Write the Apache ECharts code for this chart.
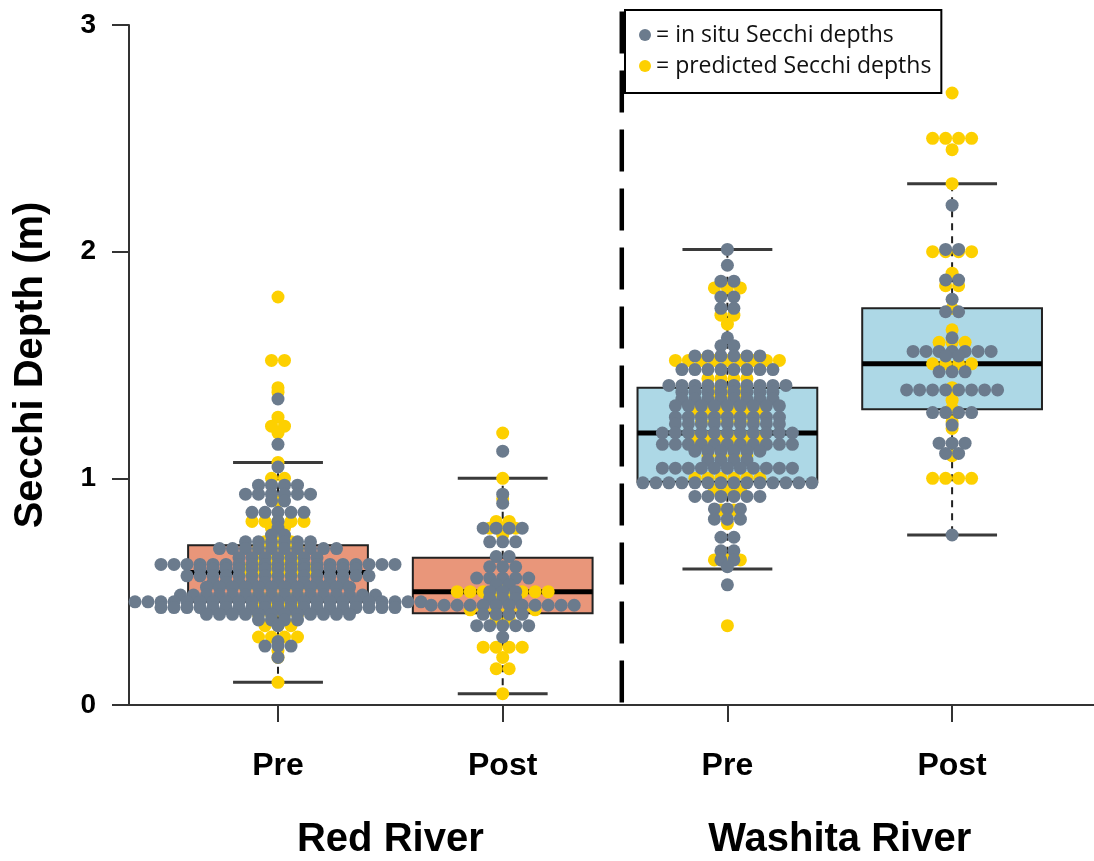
<!DOCTYPE html>
<html>
<head>
<meta charset="utf-8">
<script src="https://cdn.jsdelivr.net/npm/echarts@6/dist/echarts.min.js"></script>
<style>
html, body { margin: 0; padding: 0; background: #ffffff; }
#chart { width: 1094px; height: 861px; }
</style>
</head>
<body>
<div id="chart"></div>
<script>
// ---------------- data ----------------
const periods = ['Pre', 'Post', 'Pre', 'Post'];
const rivers = ['Red River', 'Washita River'];
const yTicks = [0, 1, 2, 3];
const legendNames = ['= in situ Secchi depths', '= predicted Secchi depths'];

// box statistics: [lower whisker, Q1, median, Q3, upper whisker]
const boxRedPre = [0.10, 0.455, 0.585, 0.705, 1.07];
const boxRedPost = [0.05, 0.405, 0.50, 0.65, 1.00];
const boxWashitaPre = [0.60, 0.985, 1.20, 1.40, 2.01];
const boxWashitaPost = [0.75, 1.305, 1.505, 1.75, 2.30];

// in situ (grey) Secchi depths, m
const insituRedPre = [
  1.35, 1.15, 1.05,
  0.97, 0.97, 0.97, 0.97,
  0.93, 0.93, 0.93, 0.93, 0.93, 0.93,
  0.90, 0.90,
  0.85, 0.85, 0.85, 0.85, 0.85,
  0.81, 0.78, 0.75, 0.75,
  0.72, 0.72, 0.72, 0.72, 0.72, 0.72,
  0.69, 0.69, 0.69, 0.69, 0.69, 0.69, 0.69, 0.69, 0.69, 0.69,
  0.65, 0.65, 0.65, 0.65, 0.65, 0.65, 0.65,
  0.62, 0.62, 0.62, 0.62, 0.62, 0.62, 0.62, 0.62, 0.62, 0.62,
  0.62, 0.62, 0.62, 0.62, 0.62, 0.62, 0.62, 0.62, 0.62,
  0.60, 0.60, 0.60, 0.60, 0.60, 0.60, 0.60, 0.60, 0.60, 0.60, 0.60, 0.60, 0.60,
  0.57, 0.57, 0.57, 0.57, 0.57, 0.57, 0.57, 0.57, 0.57, 0.57, 0.57, 0.57, 0.57, 0.57, 0.57,
  0.54, 0.54, 0.54, 0.54, 0.54, 0.54, 0.54, 0.54, 0.54, 0.54, 0.54,
  0.52, 0.52, 0.52, 0.52, 0.52, 0.52, 0.52, 0.52, 0.52, 0.52, 0.52, 0.52,
  0.485, 0.485, 0.485, 0.485, 0.485, 0.485, 0.485, 0.485, 0.485, 0.485,
  0.485, 0.485, 0.485, 0.485, 0.485, 0.485,
  0.455, 0.455, 0.455, 0.455, 0.455, 0.455, 0.455, 0.455, 0.455, 0.455,
  0.455, 0.455, 0.455, 0.455, 0.455, 0.455, 0.455, 0.455, 0.455, 0.455,
  0.455, 0.455, 0.455,
  0.43, 0.43, 0.43, 0.43, 0.43, 0.43, 0.43, 0.43, 0.43, 0.43,
  0.43, 0.43, 0.43, 0.43, 0.43, 0.43, 0.43, 0.43, 0.43,
  0.40, 0.40, 0.40, 0.40, 0.40, 0.40, 0.40, 0.40, 0.40, 0.40, 0.40, 0.40,
  0.375, 0.375, 0.375, 0.375,
  0.35, 0.28, 0.26, 0.26, 0.26, 0.21
];
const insituRedPost = [
  1.12, 0.93, 0.89,
  0.78, 0.78, 0.78, 0.78,
  0.72, 0.72, 0.72,
  0.655, 0.655,
  0.61, 0.61, 0.61,
  0.56, 0.56, 0.56, 0.56, 0.56,
  0.53, 0.53,
  0.50, 0.50, 0.50,
  0.47, 0.47, 0.47,
  0.44, 0.44, 0.44, 0.44, 0.44, 0.44, 0.44, 0.44, 0.44, 0.44, 0.44, 0.44,
  0.40, 0.40, 0.40, 0.40,
  0.35, 0.35, 0.35, 0.35, 0.35,
  0.30
];
const insituWashitaPre = [
  2.01, 1.94, 1.87, 1.87, 1.80, 1.80, 1.75, 1.75, 1.62, 1.585, 1.585,
  1.54, 1.54, 1.54, 1.54, 1.54, 1.54,
  1.48, 1.48, 1.48, 1.48, 1.48, 1.48, 1.48, 1.48,
  1.41, 1.41, 1.41, 1.41, 1.41, 1.41, 1.41, 1.41, 1.41, 1.41,
  1.38, 1.38, 1.38, 1.38, 1.38, 1.38, 1.38, 1.38,
  1.35, 1.35, 1.35, 1.35, 1.35, 1.35, 1.35, 1.35,
  1.32, 1.32, 1.32, 1.32, 1.32, 1.32, 1.32, 1.32, 1.32,
  1.27, 1.27, 1.27, 1.27, 1.27, 1.27, 1.27, 1.27, 1.27,
  1.24, 1.24, 1.24, 1.24, 1.24, 1.24, 1.24, 1.24, 1.24,
  1.20, 1.20, 1.20, 1.20, 1.20, 1.20, 1.20, 1.20, 1.20, 1.20, 1.20,
  1.15, 1.15, 1.15, 1.15, 1.15, 1.15, 1.15, 1.15, 1.15, 1.15, 1.15,
  1.12, 1.12, 1.12, 1.12, 1.12, 1.12,
  1.08, 1.08, 1.08, 1.08,
  1.045, 1.045, 1.045, 1.045, 1.045, 1.045, 1.045, 1.045, 1.045, 1.045, 1.045,
  0.98, 0.98, 0.98, 0.98, 0.98, 0.98, 0.98, 0.98, 0.98, 0.98, 0.98, 0.98, 0.98, 0.98,
  0.92, 0.92, 0.92, 0.92, 0.92, 0.92,
  0.865, 0.865, 0.865,
  0.82, 0.82, 0.82,
  0.74, 0.74, 0.68, 0.68, 0.64, 0.64, 0.61, 0.53
];
const insituWashitaPost = [
  2.205, 2.01, 2.01, 1.875, 1.875, 1.79, 1.735, 1.735, 1.62,
  1.56, 1.56, 1.56, 1.56, 1.56, 1.56, 1.56,
  1.54, 1.54,
  1.47, 1.47, 1.47,
  1.39, 1.39, 1.39, 1.39, 1.39, 1.39, 1.39, 1.39,
  1.29, 1.29, 1.29, 1.29,
  1.235, 1.155, 1.155, 1.155, 1.11, 1.11, 0.75
];

// predicted (yellow) Secchi depths, m
const predRedPre = [
  1.80, 1.52, 1.52, 1.40, 1.38, 1.27, 1.23, 1.23, 1.20, 1.07, 1.00, 1.00, 0.90,
  0.81, 0.81, 0.81, 0.81, 0.81, 0.78, 0.78,
  0.72, 0.72, 0.72, 0.69, 0.69, 0.69, 0.69, 0.65, 0.65, 0.65, 0.65,
  0.60, 0.60, 0.60, 0.60, 0.60, 0.60, 0.57, 0.57, 0.57, 0.57, 0.57,
  0.52, 0.52, 0.52, 0.52, 0.52, 0.52, 0.485, 0.485, 0.485, 0.485,
  0.43, 0.43, 0.43, 0.43, 0.40, 0.40, 0.40, 0.40, 0.35, 0.35, 0.35,
  0.30, 0.30, 0.30, 0.30, 0.24, 0.21, 0.10
];
const predRedPost = [
  1.20, 1.00, 0.91, 0.81, 0.81, 0.78, 0.78, 0.78, 0.75, 0.53,
  0.50, 0.50, 0.50, 0.50, 0.50, 0.50, 0.50, 0.50,
  0.42, 0.42, 0.42, 0.42, 0.42, 0.42, 0.38, 0.38,
  0.255, 0.255, 0.255, 0.255, 0.21, 0.16, 0.16, 0.05
];
const predWashitaPre = [
  1.84, 1.84, 1.84, 1.72, 1.72, 1.68,
  1.52, 1.52, 1.52, 1.52, 1.52, 1.52, 1.52, 1.52, 1.52,
  1.44, 1.44, 1.44, 1.44, 1.38, 1.38, 1.38,
  1.30, 1.30, 1.30, 1.30, 1.30, 1.30, 1.25, 1.25, 1.25, 1.25, 1.25,
  1.18, 1.18, 1.18, 1.18, 1.18, 1.18, 1.10, 1.10, 1.10, 1.10,
  1.00, 1.00, 1.00, 1.00, 1.00, 1.00, 0.95, 0.95, 0.95,
  0.86, 0.86, 0.80, 0.64, 0.64, 0.64, 0.35
];
const predWashitaPost = [
  2.70, 2.50, 2.50, 2.50, 2.50, 2.45, 2.30,
  2.00, 2.00, 2.00, 2.00, 1.905, 1.85, 1.85, 1.75, 1.655,
  1.60, 1.60, 1.60, 1.505, 1.505, 1.505, 1.505,
  1.40, 1.345, 1.31, 1.25, 1.22, 1.10,
  1.00, 1.00, 1.00, 1.00
];

// ---------------- styling / layout ----------------
const greyDot = '#6b7b8d';
const yellowDot = '#fdd000';
const boxFills = ['#e9967a', '#e9967a', '#add8e6', '#add8e6'];
const separatorAt = 1.53;      // between Red River and Washita River groups
const DOT = 13;                // dot spacing in px (diameter)
const RADIUS = 6.5;
const BOX_W = 0.80;            // box width in category units
const CAP_W = 0.40;            // whisker cap width in category units

// beeswarm layout: identical values form horizontally centred rows
function swarm(groupIndex, values) {
  const counts = new Map();
  values.forEach(v => counts.set(v, (counts.get(v) || 0) + 1));
  const out = [];
  counts.forEach((n, v) => {
    for (let k = 0; k < n; k++) out.push([groupIndex, v, (k - (n - 1) / 2) * DOT]);
  });
  return out;
}

const boxes = [boxRedPre, boxRedPost, boxWashitaPre, boxWashitaPost];
const insitu = [insituRedPre, insituRedPost, insituWashitaPre, insituWashitaPost];
const predicted = [predRedPre, predRedPost, predWashitaPre, predWashitaPost];

const chart = echarts.init(document.getElementById('chart'), null, { renderer: 'canvas' });

const FONT = 'Liberation Sans, Arial, sans-serif';

function pointSeries(name, color, groups, z) {
  return {
    type: 'custom',
    name: name,
    coordinateSystem: 'cartesian2d',
    xAxisIndex: 0,
    yAxisIndex: 0,
    z: z,
    itemStyle: { color: color },
    encode: { x: 0, y: 1 },
    data: groups.flatMap((vals, i) => swarm(i, vals)),
    renderItem: function (params, api) {
      const c = api.coord([api.value(0), api.value(1)]);
      return {
        type: 'circle',
        shape: { cx: c[0] + api.value(2), cy: c[1], r: RADIUS },
        style: { fill: color }
      };
    }
  };
}

const option = {
  animation: false,
  backgroundColor: '#ffffff',
  grid: { left: 129, right: 0, top: 25, bottom: 156, containLabel: false, outerBoundsMode: 'none' },
  legend: {
    data: legendNames,
    orient: 'vertical',
    left: 625,
    top: 10,
    icon: 'circle',
    itemWidth: 12,
    itemHeight: 12,
    itemGap: 5,
    padding: [12, 10, 14, 14],
    backgroundColor: '#ffffff',
    borderColor: '#000000',
    borderWidth: 2,
    borderRadius: 0,
    selectedMode: false,
    textStyle: { fontFamily: 'Open Sans, sans-serif', fontSize: 23, color: '#111', lineHeight: 26 }
  },
  xAxis: [
    {
      type: 'value',
      min: -0.6631,
      max: 3.6315,
      splitLine: { show: false },
      axisLine: { show: true, onZero: false, lineStyle: { color: '#333', width: 2 } },
      axisTick: { show: true, customValues: [0, 1, 2, 3], length: 17, lineStyle: { color: '#333', width: 2 } },
      axisLabel: {
        show: true,
        customValues: [0, 1, 2, 3],
        formatter: v => periods[Math.round(v)],
        margin: 45,
        fontFamily: FONT,
        fontWeight: 'bold',
        fontSize: 32,
        color: '#000'
      }
    },
    {
      type: 'value',
      position: 'bottom',
      min: -0.6631,
      max: 3.6315,
      splitLine: { show: false },
      axisLine: { show: false, onZero: false },
      axisTick: { show: false },
      axisLabel: {
        show: true,
        customValues: [0.5, 2.5],
        formatter: v => rivers[Math.round((v - 0.5) / 2)],
        margin: 115,
        fontFamily: FONT,
        fontWeight: 'bold',
        fontSize: 40,
        color: '#000'
      }
    }
  ],
  yAxis: {
    type: 'value',
    min: 0,
    max: 3,
    interval: 1,
    name: 'Secchi Depth (m)',
    nameLocation: 'middle',
    nameGap: 78,
    nameRotate: 90,
    nameTextStyle: { fontFamily: FONT, fontWeight: 'bold', fontSize: 40, color: '#000' },
    splitLine: { show: false },
    axisLine: { show: true, onZero: false, lineStyle: { color: '#333', width: 2 } },
    axisTick: { show: true, length: 17, lineStyle: { color: '#333', width: 2 } },
    axisLabel: {
      formatter: v => (yTicks.indexOf(v) >= 0 ? String(v) : ''),
      margin: 33,
      fontFamily: FONT,
      fontWeight: 'bold',
      fontSize: 28,
      color: '#000'
    }
  },
  series: [
    {
      type: 'custom',
      name: 'boxes',
      coordinateSystem: 'cartesian2d',
      z: 2,
      encode: { x: 0, y: [1, 2, 3, 4, 5] },
      data: boxes.map((b, i) => [i].concat(b)),
      renderItem: function (params, api) {
        const i = api.value(0);
        const lo = api.coord([i, api.value(1)]);
        const q1 = api.coord([i, api.value(2)]);
        const med = api.coord([i, api.value(3)]);
        const q3 = api.coord([i, api.value(4)]);
        const hi = api.coord([i, api.value(5)]);
        const bw = api.size([BOX_W, 0])[0];
        const cw = api.size([CAP_W, 0])[0];
        const x = lo[0];
        const whisk = { stroke: '#222', lineWidth: 2, lineDash: [7, 6] };
        const cap = { stroke: '#3a3a3a', lineWidth: 3 };
        return {
          type: 'group',
          children: [
            { type: 'line', shape: { x1: x, y1: q3[1], x2: x, y2: hi[1] }, style: whisk },
            { type: 'line', shape: { x1: x, y1: q1[1], x2: x, y2: lo[1] }, style: whisk },
            { type: 'line', shape: { x1: x - cw / 2, y1: hi[1], x2: x + cw / 2, y2: hi[1] }, style: cap },
            { type: 'line', shape: { x1: x - cw / 2, y1: lo[1], x2: x + cw / 2, y2: lo[1] }, style: cap },
            {
              type: 'rect',
              shape: { x: x - bw / 2, y: q3[1], width: bw, height: q1[1] - q3[1] },
              style: { fill: boxFills[i], stroke: '#222', lineWidth: 2 }
            },
            { type: 'line', shape: { x1: x - bw / 2, y1: med[1], x2: x + bw / 2, y2: med[1] }, style: { stroke: '#000', lineWidth: 5 } }
          ]
        };
      }
    },
    pointSeries(legendNames[1], yellowDot, predicted, 3),
    pointSeries(legendNames[0], greyDot, insitu, 4),
    {
      type: 'custom',
      name: 'separator',
      coordinateSystem: 'cartesian2d',
      z: 5,
      clip: false,
      encode: { x: 0, y: [1, 2] },
      data: [[separatorAt, 0, 3.06]],
      renderItem: function (params, api) {
        const top = api.coord([api.value(0), api.value(2)]);
        const bot = api.coord([api.value(0), api.value(1)]);
        return {
          type: 'line',
          shape: { x1: top[0], y1: top[1], x2: bot[0], y2: bot[1] },
          style: { stroke: '#000', lineWidth: 4.5, lineDash: [42, 17] }
        };
      }
    }
  ]
};

chart.setOption(option);
</script>
</body>
</html>
